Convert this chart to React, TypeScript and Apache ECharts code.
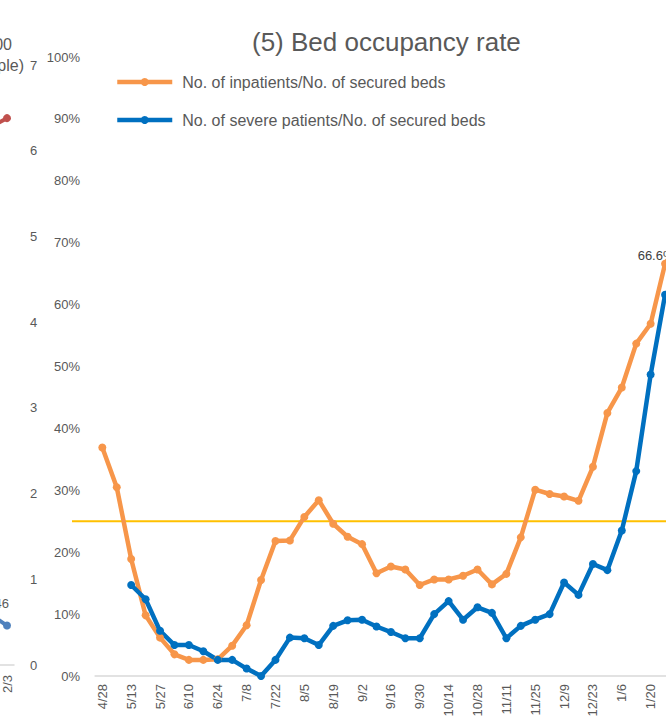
import React, { useEffect, useRef } from "react";
import * as echarts from "echarts";

// Main chart (5) Bed occupancy rate — weekly categories
const dates = [
  "4/28", "5/6", "5/13", "5/20", "5/27", "6/3", "6/10", "6/17", "6/24", "7/1",
  "7/8", "7/15", "7/22", "7/29", "8/5", "8/12", "8/19", "8/26", "9/2", "9/9",
  "9/16", "9/23", "9/30", "10/7", "10/14", "10/21", "10/28", "11/4", "11/11", "11/18",
  "11/25", "12/2", "12/9", "12/16", "12/23", "12/30", "1/6", "1/13", "1/20", "1/27",
];
const inpatientRate = [
  36.9, 30.5, 18.9, 9.8, 6.2, 3.5, 2.6, 2.6, 2.7, 4.9,
  8.2, 15.5, 21.8, 21.9, 25.7, 28.4, 24.6, 22.5, 21.3, 16.6,
  17.7, 17.2, 14.7, 15.6, 15.6, 16.2, 17.2, 14.8, 16.5, 22.4,
  30.1, 29.4, 29.0, 28.3, 33.8, 42.5, 46.6, 53.7, 56.9, 66.6,
];
const severeRate = [
  null, null, 14.7, 12.4, 7.3, 5.0, 5.0, 4.0, 2.6, 2.6,
  1.2, 0, 2.6, 6.2, 6.1, 5.0, 8.1, 9.0, 9.1, 8.0,
  7.1, 6.1, 6.1, 10.0, 12.1, 9.1, 11.1, 10.2, 6.1, 8.1,
  9.1, 10.0, 15.1, 13.1, 18.1, 17.1, 23.5, 33.1, 48.7, 61.6,
];
const thresholdValue = 25;
const thresholdSpan = [0, 1];
const percentTicks = { min: 0, max: 100, interval: 10 };

// Neighbouring chart (cut off at the left edge)
const leftDates = ["1/27", "2/3"];
const leftRed = [6.29, 6.38];
const leftBlue = [0.57, 0.46];
const leftTicks = { min: 0, max: 7, interval: 1 };
const leftAxisTitle = ["(per 100,000", "people)"];

const seriesNames = [
  "No. of inpatients/No. of secured beds",
  "No. of severe patients/No. of secured beds",
];
const chartTitle = "(5) Bed occupancy rate";

const FONT = "'Liberation Sans', Arial, sans-serif";
const GREY = "#595959";
const ORANGE = "#F7964A";
const BLUE = "#0070C0";

export default function App() {
  const ref = useRef<HTMLDivElement>(null);
  useEffect(() => {
    if (!ref.current) return;
    const chart = echarts.init(ref.current, undefined, { renderer: "svg" });
    const lastIdx = inpatientRate.length - 1;
    const option: any = {
      animation: false,
      textStyle: { fontFamily: FONT },
      title: {
        text: chartTitle,
        left: 252,
        top: 29,
        padding: 0,
        textStyle: { fontSize: 26, fontWeight: "normal", color: GREY, fontFamily: FONT },
      },
      legend: {
        data: seriesNames,
        orient: "vertical",
        left: 115,
        top: 74,
        padding: 0,
        itemWidth: 55,
        itemHeight: 10,
        itemGap: 22,
        lineStyle: { width: 4.5 },
        textStyle: { fontSize: 16, color: GREY, fontFamily: FONT, padding: [0, 0, 0, 5] },
      },
      graphic: [
        {
          type: "text",
          x: 12,
          y: 44,
          style: { text: leftAxisTitle[0], fill: GREY, font: `16px ${FONT}`, align: "right", verticalAlign: "middle" },
        },
        {
          type: "text",
          x: 24,
          y: 65,
          style: { text: leftAxisTitle[1], fill: GREY, font: `16px ${FONT}`, align: "right", verticalAlign: "middle" },
        },
      ],
      grid: [
        { left: -14, width: 28, top: 65, bottom: 56, outerBoundsMode: "none", containLabel: false },
        { left: 95.1, right: -6.3, top: 57, bottom: 45, outerBoundsMode: "none", containLabel: false },
        { left: 72, right: 0, top: 57, bottom: 45, outerBoundsMode: "none", containLabel: false },
      ],
      xAxis: [
        {
          gridIndex: 0,
          type: "category",
          data: leftDates,
          axisLine: { lineStyle: { color: "#D9D9D9", width: 1.5 } },
          axisTick: { show: false },
          axisLabel: { rotate: 90, interval: 0, color: GREY, fontSize: 13, margin: 10, fontFamily: FONT },
        },
        {
          gridIndex: 1,
          type: "category",
          data: dates,
          axisLine: { lineStyle: { color: "#D9D9D9", width: 1.5 } },
          axisTick: { show: false },
          axisLabel: { rotate: 90, interval: 1, color: GREY, fontSize: 13, margin: 8, fontFamily: FONT },
        },
        { gridIndex: 2, type: "value", min: 0, max: 1, show: false },
      ],
      yAxis: [
        {
          gridIndex: 0,
          type: "value",
          position: "right",
          ...leftTicks,
          axisLine: { show: false },
          axisTick: { show: false },
          splitLine: { show: false },
          axisLabel: { color: GREY, fontSize: 13, margin: 16, fontFamily: FONT },
        },
        {
          gridIndex: 1,
          type: "value",
          ...percentTicks,
          axisLine: { show: false },
          axisTick: { show: false },
          splitLine: { show: false },
          axisLabel: { color: GREY, fontSize: 13, margin: 15, formatter: "{value}%", fontFamily: FONT },
        },
        { gridIndex: 2, type: "value", ...percentTicks, show: false },
      ],
      series: [
        {
          type: "line",
          xAxisIndex: 0,
          yAxisIndex: 0,
          data: leftRed.map((v, i) =>
            i === leftRed.length - 1
              ? { value: v, label: { show: true, position: "left", offset: [2, -15], color: GREY, fontSize: 13, formatter: "{c}" } }
              : v
          ),
          symbol: "circle",
          symbolSize: 8,
          lineStyle: { color: "#C0504D", width: 4 },
          itemStyle: { color: "#C0504D" },
        },
        {
          type: "line",
          xAxisIndex: 0,
          yAxisIndex: 0,
          data: leftBlue.map((v, i) =>
            i === leftBlue.length - 1
              ? { value: v, label: { show: true, position: "left", offset: [11, -22], color: GREY, fontSize: 13, formatter: "{c}" } }
              : v
          ),
          symbol: "circle",
          symbolSize: 8,
          lineStyle: { color: "#4F81BD", width: 4 },
          itemStyle: { color: "#4F81BD" },
        },
        {
          type: "line",
          xAxisIndex: 2,
          yAxisIndex: 2,
          data: thresholdSpan.map((x) => [x, thresholdValue]),
          symbol: "none",
          lineStyle: { color: "#FFC000", width: 2 },
          silent: true,
        },
        {
          name: seriesNames[0],
          type: "line",
          xAxisIndex: 1,
          yAxisIndex: 1,
          data: inpatientRate.map((v, i) =>
            i === lastIdx
              ? { value: v, label: { show: true, position: "top", offset: [-9, 7], color: "#404040", fontSize: 13, formatter: "{c}%" } }
              : v
          ),
          symbol: "circle",
          symbolSize: 8,
          lineStyle: { color: ORANGE, width: 4.5 },
          itemStyle: { color: ORANGE },
        },
        {
          name: seriesNames[1],
          type: "line",
          xAxisIndex: 1,
          yAxisIndex: 1,
          data: severeRate,
          symbol: "circle",
          symbolSize: 8,
          lineStyle: { color: BLUE, width: 4.5 },
          itemStyle: { color: BLUE },
        },
      ],
    };
    chart.setOption(option);
    return () => chart.dispose();
  }, []);
  return (
    <div
      ref={ref}
      style={{ position: "fixed", left: 0, top: 0, width: 666, height: 721, background: "#fff" }}
    />
  );
}
